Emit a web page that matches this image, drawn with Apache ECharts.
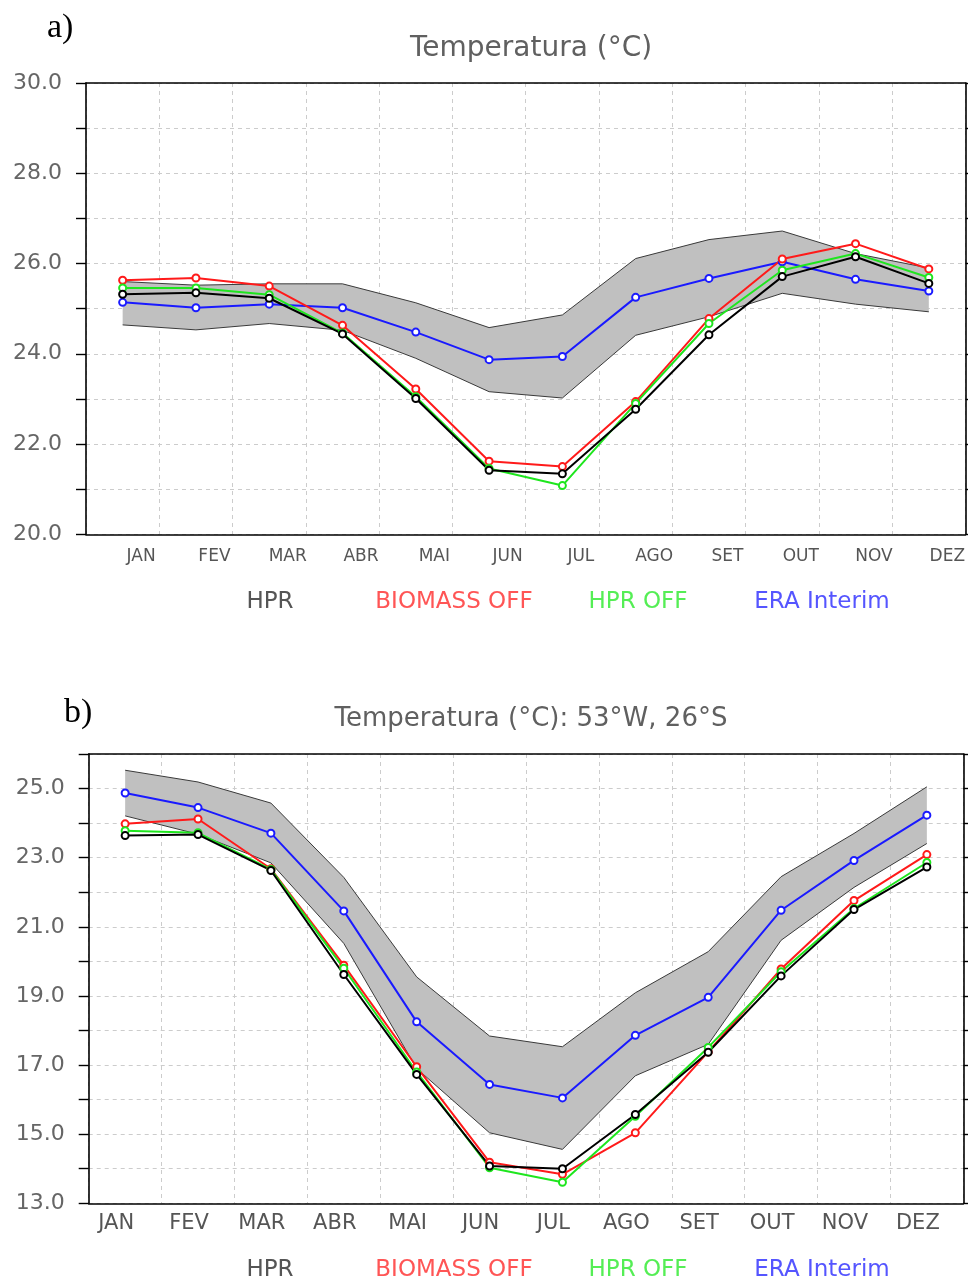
<!DOCTYPE html>
<html>
<head>
<meta charset="utf-8">
<script src="https://cdn.jsdelivr.net/npm/echarts/dist/echarts.min.js"></script>
<style>
  html, body { margin: 0; background: #fff; }
  #main { width: 968px; height: 1282px; }
</style>
</head>
<body>
<div id="main"></div>
<script>
const months = ['JAN', 'FEV', 'MAR', 'ABR', 'MAI', 'JUN', 'JUL', 'AGO', 'SET', 'OUT', 'NOV', 'DEZ']

// painel a)
const hprA = [25.32, 25.35, 25.23, 24.44, 23.01, 21.42, 21.34, 22.77, 24.42, 25.71, 26.15, 25.56]
const biomassA = [25.63, 25.68, 25.50, 24.63, 23.22, 21.62, 21.50, 22.94, 24.78, 26.10, 26.44, 25.88]
const hprOffA = [25.46, 25.46, 25.31, 24.46, 23.05, 21.46, 21.08, 22.90, 24.67, 25.85, 26.22, 25.69]
const eraA = [25.14, 25.02, 25.10, 25.02, 24.48, 23.87, 23.94, 25.25, 25.67, 26.04, 25.65, 25.39]
const bandLowA = [24.64, 24.53, 24.67, 24.52, 23.90, 23.16, 23.02, 24.41, 24.82, 25.34, 25.10, 24.93]
const bandHighA = [25.60, 25.52, 25.55, 25.55, 25.13, 24.58, 24.86, 26.11, 26.53, 26.72, 26.22, 25.90]

// painel b)
const hprB = [23.64, 23.67, 22.63, 19.62, 16.73, 14.08, 14.00, 15.57, 17.37, 19.58, 21.50, 22.73]
const biomassB = [23.98, 24.12, 22.68, 19.89, 16.95, 14.19, 13.84, 15.04, 17.38, 19.78, 21.76, 23.09]
const hprOffB = [23.78, 23.72, 22.66, 19.80, 16.80, 14.03, 13.61, 15.52, 17.51, 19.70, 21.53, 22.86]
const eraB = [24.87, 24.45, 23.71, 21.46, 18.25, 16.44, 16.05, 17.86, 18.96, 21.48, 22.92, 24.23]
const bandLowB = [24.21, 23.68, 22.85, 20.52, 16.90, 15.04, 14.56, 16.69, 17.60, 20.61, 22.14, 23.41]
const bandHighB = [25.53, 25.19, 24.58, 22.43, 19.55, 17.84, 17.53, 19.09, 20.28, 22.45, 23.70, 25.05]

const FONT = '"DejaVu Sans", sans-serif'
const names = ['HPR', 'BIOMASS OFF', 'HPR OFF', 'ERA Interim']
const lineColors = { 'HPR': '#000000', 'BIOMASS OFF': '#ff1a1a', 'HPR OFF': '#1ee61e', 'ERA Interim': '#1a1aff' }
const legendColors = { 'HPR': '#555555', 'BIOMASS OFF': '#ff5555', 'HPR OFF': '#55ee55', 'ERA Interim': '#5555ff' }
const legendCenters = [270, 454, 638, 822]
const LEGEND_SIZE = 23

const chart = echarts.init(document.getElementById('main'))

// mede o texto para centrar cada item da legenda na sua posicao
const measureCtx = document.createElement('canvas').getContext('2d')
measureCtx.font = LEGEND_SIZE + 'px ' + FONT
function textWidth (s) {
  return measureCtx.measureText(s).width
}

// monta eixos e series de um painel
function panel (idx, cfg) {
  const xs = [
    {
      gridIndex: idx,
      type: 'category',
      data: months,
      boundaryGap: true,
      axisLine: { lineStyle: { color: '#000', width: 1.6 } },
      axisTick: { length: 4, lineStyle: { color: '#000', width: 1.4 } },
      axisLabel: {
        color: '#555',
        fontFamily: FONT,
        fontSize: cfg.xFont,
        margin: cfg.xMargin,
        padding: cfg.xPad
      },
      splitLine: { show: true, lineStyle: { color: '#cccccc', type: [4, 4], width: 1 } }
    },
    {
      gridIndex: idx,
      type: 'category',
      data: months,
      position: 'top',
      boundaryGap: true,
      axisLine: { lineStyle: { color: '#000', width: 1.6 } },
      axisTick: { length: 5, lineStyle: { color: '#000', width: 1.4 } },
      axisLabel: { show: false },
      splitLine: { show: false }
    }
  ]
  const ys = [
    {
      gridIndex: idx,
      type: 'value',
      min: cfg.min,
      max: cfg.max,
      interval: 1,
      axisLine: { show: true, lineStyle: { color: '#000', width: 1.6 } },
      axisTick: { show: true, length: 10, lineStyle: { color: '#000', width: 1.4 } },
      axisLabel: {
        color: '#666',
        fontFamily: FONT,
        fontSize: cfg.yFont,
        margin: 24,
        formatter: v => ((v - cfg.min) % 2 === 0 ? v.toFixed(1) : '')
      },
      splitLine: { show: true, lineStyle: { color: '#cccccc', type: [4, 4], width: 1 } }
    },
    {
      gridIndex: idx,
      type: 'value',
      position: 'right',
      min: cfg.min,
      max: cfg.max,
      interval: 1,
      axisLine: { show: true, lineStyle: { color: '#000', width: 1.6 } },
      axisTick: { show: true, length: 5, lineStyle: { color: '#000', width: 1.4 } },
      axisLabel: { show: false },
      splitLine: { show: false }
    }
  ]
  const xi = idx * 2
  const yi = idx * 2
  const series = [
    {
      name: 'band-lo-' + idx,
      type: 'line',
      xAxisIndex: xi,
      yAxisIndex: yi,
      stack: 'band' + idx,
      data: cfg.lo,
      symbol: 'none',
      silent: true,
      lineStyle: { color: '#3a3a3a', width: 1 },
      z: 1
    },
    {
      name: 'band-hi-' + idx,
      type: 'line',
      xAxisIndex: xi,
      yAxisIndex: yi,
      stack: 'band' + idx,
      data: cfg.hi.map((v, i) => +(v - cfg.lo[i]).toFixed(2)),
      symbol: 'none',
      silent: true,
      lineStyle: { color: '#3a3a3a', width: 1 },
      areaStyle: { color: '#c0c0c0', opacity: 1 },
      z: 1
    }
  ]
  const order = ['ERA Interim', 'BIOMASS OFF', 'HPR OFF', 'HPR']
  order.forEach(n => {
    series.push({
      name: n,
      type: 'line',
      xAxisIndex: xi,
      yAxisIndex: yi,
      data: cfg.lines[n],
      symbol: 'emptyCircle',
      symbolSize: 7,
      lineStyle: { color: lineColors[n], width: 2 },
      itemStyle: { color: lineColors[n], borderWidth: 1.6 },
      z: 3
    })
  })
  // uma legenda por item, centrada em posicoes fixas (como no GrADS)
  const legends = names.map((n, i) => ({
    data: [n],
    left: legendCenters[i] - textWidth(n) / 2 - 5,
    top: cfg.legendTop,
    padding: 0,
    icon: 'none',
    itemWidth: 0,
    itemGap: 0,
    selectedMode: false,
    textStyle: { fontSize: LEGEND_SIZE, fontFamily: FONT, color: legendColors[n] }
  }))
  return { xs, ys, series, legends }
}

const pa = panel(0, {
  min: 20, max: 30, xFont: 17, yFont: 22, xMargin: 14, xPad: [0, 0, 0, 37], legendTop: 591,
  lo: bandLowA, hi: bandHighA,
  lines: { 'HPR': hprA, 'BIOMASS OFF': biomassA, 'HPR OFF': hprOffA, 'ERA Interim': eraA }
})
const pb = panel(1, {
  min: 13, max: 26, xFont: 21, yFont: 22, xMargin: 10, xPad: [0, 18, 0, 0], legendTop: 1259,
  lo: bandLowB, hi: bandHighB,
  lines: { 'HPR': hprB, 'BIOMASS OFF': biomassB, 'HPR OFF': hprOffB, 'ERA Interim': eraB }
})

const option = {
  animation: false,
  backgroundColor: '#fff',
  title: [
    { text: 'a)', left: 42, top: 6, textStyle: { fontFamily: '"Liberation Serif", serif', fontSize: 34, fontWeight: 'normal', color: '#000' } },
    { text: 'Temperatura (°C)', left: 526, top: 30, textAlign: 'center', textStyle: { fontFamily: FONT, fontSize: 28, fontWeight: 'normal', color: '#606060' } },
    { text: 'b)', left: 59, top: 691, textStyle: { fontFamily: '"Liberation Serif", serif', fontSize: 34, fontWeight: 'normal', color: '#000' } },
    { text: 'Temperatura (°C): 53°W, 26°S', left: 526, top: 701, textAlign: 'center', textStyle: { fontFamily: FONT, fontSize: 26, fontWeight: 'normal', color: '#606060' } }
  ],
  legend: pa.legends.concat(pb.legends),
  grid: [
    { left: 86, top: 83, right: 1.3, bottom: 747.7 },
    { left: 88.7, top: 754, right: 4.7, bottom: 78.7 }
  ],
  xAxis: pa.xs.concat(pb.xs),
  yAxis: pa.ys.concat(pb.ys),
  series: pa.series.concat(pb.series)
}

chart.setOption(option)
</script>
</body>
</html>
